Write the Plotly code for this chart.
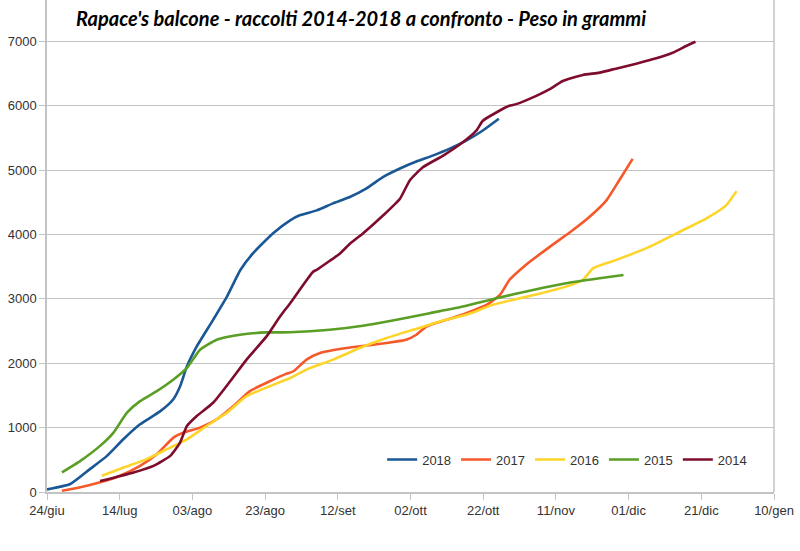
import plotly.graph_objects as go

# Giorni dal 24/giu e peso cumulativo (g)
days_2018 = [0, 6.4, 11.8, 16.5, 21.0, 25.6, 31.1, 34.7, 36.6, 38.5, 41.2, 45.7, 49.5, 53.2, 56.7, 62.2,
             66.9, 69.5, 74.2, 78.7, 83.3, 87.9, 92.4, 97.1, 101.6, 106.1, 110.8, 115.3, 119.8, 124.3]
vals_2018 = [40, 124, 355, 561, 819, 1051, 1252, 1437, 1638, 1952, 2261, 2674, 3034, 3447, 3709, 4019,
             4219, 4297, 4373, 4482, 4580, 4714, 4889, 5023, 5131, 5224, 5332, 5456, 5610, 5796]

days_2017 = [4.1, 9.2, 14.6, 20.1, 25.6, 30.2, 34.8, 37.6, 42.1, 46.7, 51.3, 55.8, 61.3, 65.6, 67.8, 71.4,
             75.1, 82.4, 89.7, 98.8, 101.6, 104.4, 109.9, 115.3, 120.9, 124.6, 127.2, 131.8, 138.3,
             144.6, 149.2, 153.9, 157.4, 161.1]
vals_2017 = [20, 73, 150, 252, 406, 587, 845, 923, 1000, 1128, 1334, 1566, 1720, 1830, 1875, 2056,
             2159, 2236, 2287, 2365, 2442, 2570, 2674, 2777, 2906, 3060, 3292, 3530, 3807,
             4065, 4271, 4529, 4838, 5173]

days_2016 = [15.1, 21.1, 27.4, 33.0, 38.5, 43.9, 49.5, 54.9, 61.3, 66.9, 71.4, 78.7, 86.0, 93.4, 100.7,
             108.1, 115.3, 122.7, 130.0, 135.5, 142.8, 147.4, 150.2, 156.5, 165.7, 174.9, 181.3, 186.8, 189.7]
vals_2016 = [252, 381, 510, 665, 819, 1025, 1232, 1488, 1643, 1770, 1901, 2056, 2236, 2391, 2519,
             2648, 2751, 2906, 3009, 3080, 3189, 3292, 3473, 3601, 3807, 4065, 4245, 4451, 4672]

days_2015 = [4.1, 9.2, 14.6, 18.3, 22.0, 25.6, 30.2, 34.8, 38.5, 42.1, 46.7, 53.1, 60.4, 66.9, 77.8,
             86.9, 96.2, 105.3, 114.4, 123.6, 133.7, 142.8, 152.0, 158.6]
vals_2015 = [304, 484, 716, 923, 1232, 1411, 1566, 1747, 1927, 2210, 2365, 2442, 2478, 2480, 2519,
             2581, 2674, 2777, 2880, 3009, 3138, 3241, 3318, 3369]

days_2014 = [14.6, 23.8, 29.3, 33.9, 36.6, 38.5, 41.2, 45.7, 50.4, 54.9, 60.4, 64.1, 66.9, 73.2, 74.2,
             80.6, 83.4, 86.9, 92.5, 97.1, 99.8, 103.4, 109.0, 114.4, 118.1, 119.9, 123.6, 127.2,
             129.1, 134.6, 138.3, 141.9, 147.4, 152.0, 156.5, 162.1, 167.6, 172.1, 175.8, 178.4]
vals_2014 = [170, 304, 406, 561, 768, 1025, 1180, 1386, 1720, 2056, 2416, 2725, 2932, 3420, 3450,
             3705, 3859, 4014, 4297, 4555, 4838, 5043, 5224, 5430, 5610, 5765, 5893, 5997,
             6023, 6151, 6255, 6383, 6476, 6512, 6574, 6651, 6734, 6821, 6925, 6991]

tick_days = [0, 20, 40, 60, 80, 100, 120, 140, 160, 180, 200]
tick_labels = ["24/giu", "14/lug", "03/ago", "23/ago", "12/set", "02/ott", "22/ott", "11/nov", "01/dic", "21/dic", "10/gen"]
y_ticks = [0, 1000, 2000, 3000, 4000, 5000, 6000, 7000]

series = [
    ("2018", days_2018, vals_2018, "#1a5795"),
    ("2017", days_2017, vals_2017, "#f5592a"),
    ("2016", days_2016, vals_2016, "#fdd42a"),
    ("2015", days_2015, vals_2015, "#5a9e25"),
    ("2014", days_2014, vals_2014, "#7e0d2d"),
]

fig = go.Figure()
for name, d, v, c in series:
    fig.add_trace(go.Scatter(x=d, y=v, mode="lines", name=name,
                             line=dict(color=c, width=2.6, shape="spline", smoothing=0.5)))

grid = "#c3c3c3"
fig.update_layout(
    width=800, height=551,
    margin=dict(l=47, r=26, t=0, b=58.5),
    paper_bgcolor="white", plot_bgcolor="white",
    font=dict(family="Liberation Sans, Arial, sans-serif", size=12, color="#333333"),
    showlegend=True,
    legend=dict(orientation="h", x=0.461, y=0.066, xanchor="left", yanchor="middle",
                bgcolor="rgba(0,0,0,0)", font=dict(size=13, color="#333333"),
                itemwidth=30, tracegroupgap=0),
    annotations=[dict(text="<b><i>Rapace's balcone - raccolti 2014-2018 a confronto - Peso in grammi</i></b>",
                      xref="paper", yref="paper", x=(74 - 47) / 727, y=(492.5 - 18) / 492.5,
                      xanchor="left", yanchor="middle", showarrow=False,
                      font=dict(family="Lato, Open Sans, sans-serif", size=20, color="black"))],
    shapes=[dict(type="line", xref="paper", yref="paper", x0=1, x1=1, y0=0, y1=1,
                 line=dict(color=grid, width=1.5))],
)
fig.update_xaxes(range=[0, 200], tickmode="array", tickvals=tick_days, ticktext=tick_labels,
                 showgrid=False, showline=True, linecolor=grid, linewidth=1.5, automargin=False,
                 ticks="outside", ticklen=6, tickcolor=grid, zeroline=False, fixedrange=True,
                 tickfont=dict(size=13))
fig.update_yaxes(range=[0, 7640], tickmode="array", tickvals=y_ticks, automargin=False,
                 showgrid=True, gridcolor=grid, gridwidth=1.3,
                 showline=True, linecolor=grid, linewidth=1.5,
                 ticks="outside", ticklen=6, tickcolor=grid, zeroline=False, fixedrange=True,
                 tickfont=dict(size=13))

fig.write_html("out.html", config={"displayModeBar": False},
               post_script="document.body.style.margin='0';")
